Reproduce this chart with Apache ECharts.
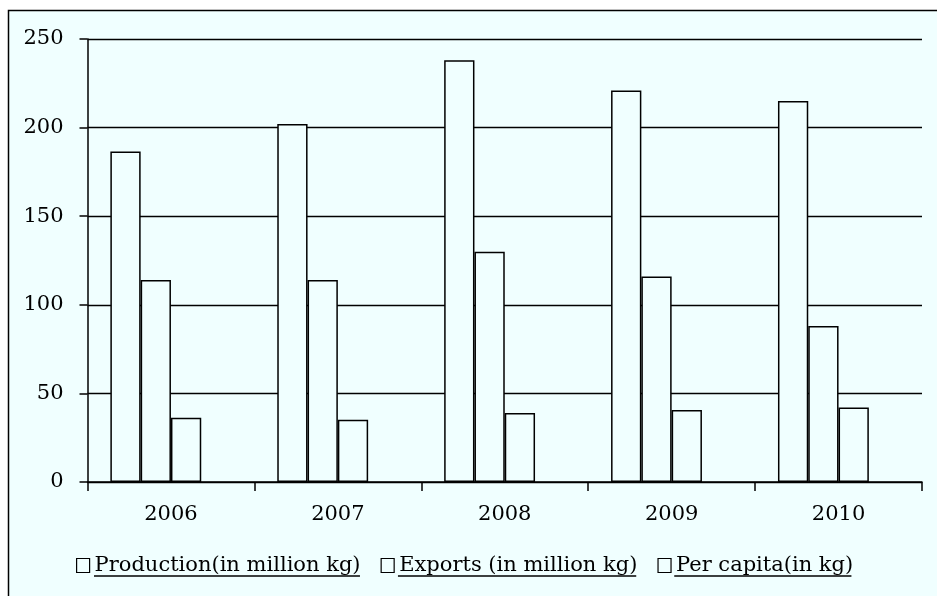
<!DOCTYPE html>
<html>
<head>
<meta charset="utf-8">
<script src="https://cdn.jsdelivr.net/npm/echarts@6/dist/echarts.min.js"></script>
<style>
html,body{margin:0;padding:0;background:#ffffff;}
#chart{width:937px;height:596px;}
</style>
</head>
<body>
<div id="chart"></div>
<script>
var categories = ['2006', '2007', '2008', '2009', '2010'];
var production = [186.5, 202, 238, 221, 215];
var exports = [114, 114, 130, 116, 88];
var perCapita = [36.3, 35.2, 38.9, 40.6, 42.1];
var seriesNames = ['Production(in million kg)', 'Exports (in million kg)', 'Per capita(in kg)'];
var yTicks = [0, 50, 100, 150, 200, 250];

var FONT = 'DejaVu Serif';
var legendFont = 21;
var legendLeft = 76, iconW = 13, textGap = 5, itemGap = 20, legendTop = 555;

var ctx = document.createElement('canvas').getContext('2d');
ctx.font = legendFont + 'px "' + FONT + '"';
var graphics = [{
  type: 'rect', silent: true, z: -1,
  shape: {x: 8.5, y: 10.5, width: 1000, height: 700},
  style: {fill: '#F0FFFF', stroke: '#000000', lineWidth: 1.5}
}];
var x = legendLeft;
seriesNames.forEach(function (n) {
  var w = ctx.measureText(n).width;
  var sx = x + iconW + textGap;
  graphics.push({
    type: 'line', silent: true, z: 10,
    shape: {x1: sx, y1: 576, x2: sx + w, y2: 576},
    style: {stroke: '#000000', lineWidth: 1.5}
  });
  x = sx + w + itemGap;
});

var barStyle = {color: '#F0FFFF', borderColor: '#000000', borderWidth: 1.5};
var chart = echarts.init(document.getElementById('chart'));
chart.setOption({
  backgroundColor: 'transparent',
  animation: false,
  graphic: graphics,
  grid: {left: 87.5, right: 15, top: 39, bottom: 114, containLabel: false},
  legend: {
    data: seriesNames,
    left: legendLeft, top: legendTop, padding: 0,
    icon: 'rect', itemWidth: iconW, itemHeight: 14, itemGap: itemGap,
    itemStyle: {color: '#F0FFFF', borderColor: '#000000', borderWidth: 1.2},
    textStyle: {fontFamily: FONT, fontSize: legendFont, color: '#000000'},
    selectedMode: false
  },
  xAxis: {
    type: 'category', data: categories,
    axisLine: {lineStyle: {color: '#000000', width: 1.5}},
    axisTick: {show: true, length: 9, alignWithLabel: false, lineStyle: {color: '#000000', width: 1.5}},
    axisLabel: {fontFamily: FONT, fontSize: 21, color: '#000000', margin: 22},
    splitLine: {show: false}
  },
  yAxis: {
    type: 'value', min: 0, max: 250, interval: 50,
    axisLine: {show: true, lineStyle: {color: '#000000', width: 1.5}},
    axisTick: {show: true, length: 8, lineStyle: {color: '#000000', width: 1.5}},
    axisLabel: {fontFamily: FONT, fontSize: 21, color: '#000000', margin: 24},
    splitLine: {show: true, lineStyle: {color: '#000000', width: 1.3}}
  },
  series: [
    {name: seriesNames[0], type: 'bar', data: production, itemStyle: barStyle, barGap: '0%', barCategoryGap: '27.4%'},
    {name: seriesNames[1], type: 'bar', data: exports, itemStyle: barStyle, barGap: '0%', barCategoryGap: '27.4%'},
    {name: seriesNames[2], type: 'bar', data: perCapita, itemStyle: barStyle, barGap: '0%', barCategoryGap: '27.4%'},
    {name: '', type: 'bar', data: [null, null, null, null, null], itemStyle: barStyle, barGap: '0%', barCategoryGap: '27.4%'}
  ]
});
</script>
</body>
</html>
